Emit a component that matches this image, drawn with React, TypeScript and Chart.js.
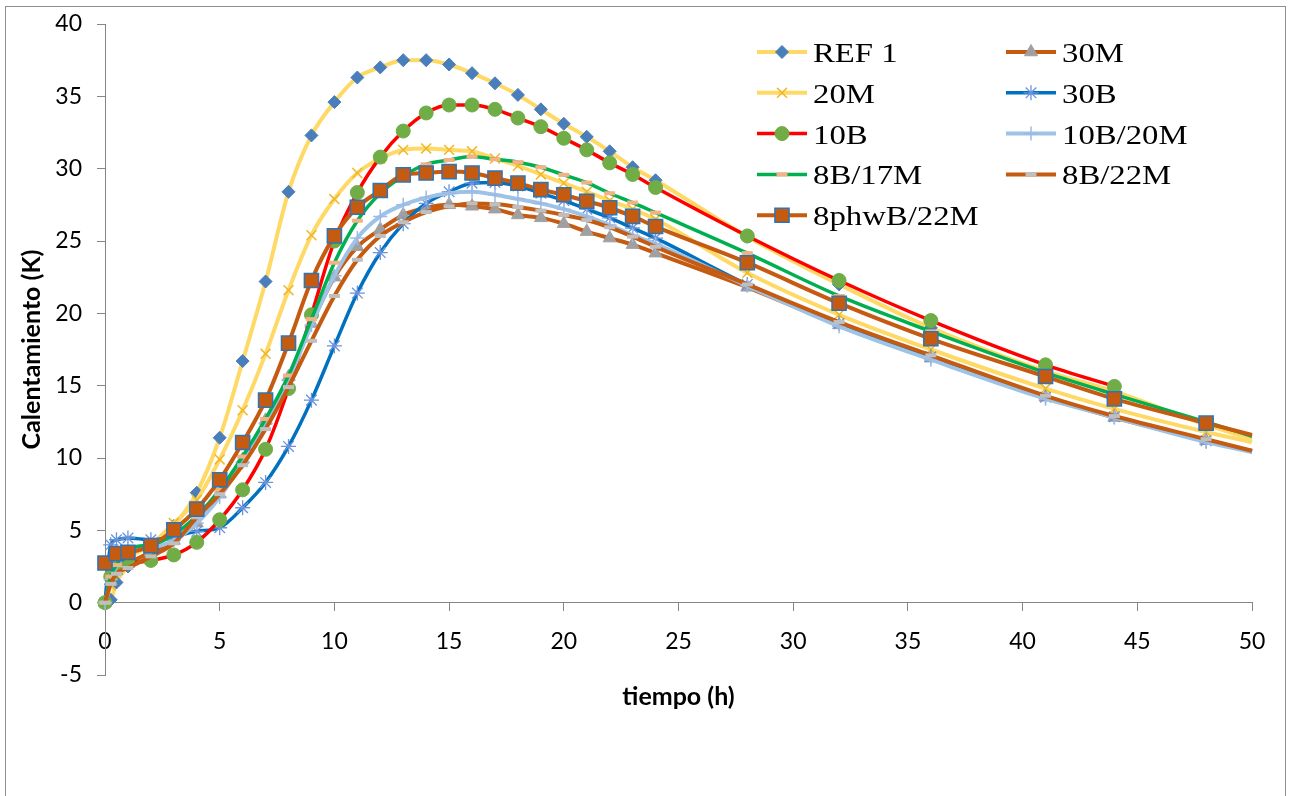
import React, { useEffect, useRef } from 'react';
import { Chart, registerables } from 'chart.js';
import { drawPoint } from 'chart.js/helpers';

Chart.register(...registerables);

// time (h)
const TIMES = [0, 0.25, 0.5, 1, 2, 3, 4, 5, 6, 7, 8, 9, 10, 11, 12, 13, 14, 15, 16, 17, 18, 19, 20, 21, 22, 23, 24, 28, 32, 36, 41, 44, 48, 50];

const REF1 = [0, 0.2, 1.4, 2.5, 3.6, 5.3, 7.6, 11.4, 16.7, 22.2, 28.4, 32.3, 34.6, 36.3, 37.0, 37.5, 37.5, 37.2, 36.6, 35.9, 35.1, 34.1, 33.1, 32.2, 31.2, 30.1, 29.2, 25.3, 22.0, 19.0, 16.0, 14.6, 12.3, 11.3];
const M30 = [0, 1.5, 2.2, 2.7, 3.5, 4.3, 5.5, 7.5, 9.9, 12.6, 15.6, 19.3, 22.5, 24.6, 25.8, 26.8, 27.3, 27.5, 27.4, 27.2, 26.8, 26.6, 26.2, 25.65, 25.2, 24.75, 24.16, 21.8, 19.2, 16.9, 14.2, 12.8, 11.2, 10.45];
const M20 = [0, 1.2, 2.3, 3.1, 4.0, 5.5, 7.1, 9.9, 13.3, 17.2, 21.6, 25.4, 27.9, 29.7, 30.7, 31.3, 31.4, 31.3, 31.2, 30.7, 30.2, 29.6, 29.0, 28.4, 27.8, 27.2, 26.5, 22.8, 19.9, 17.5, 14.8, 13.4, 11.8, 11.1];
const B30 = [0, 4.0, 4.35, 4.47, 4.35, 4.58, 4.93, 5.18, 6.56, 8.31, 10.8, 14.0, 17.75, 21.4, 24.2, 26.2, 27.6, 28.4, 29.0, 29.05, 28.8, 28.3, 27.8, 27.2, 26.6, 25.9, 25.2, 22.0, 19.3, 17.0, 14.2, 12.85, 11.2, 10.5];
const B10 = [0, 1.8, 2.6, 2.74, 2.92, 3.3, 4.17, 5.73, 7.8, 10.6, 14.8, 19.9, 25.0, 28.35, 30.8, 32.6, 33.85, 34.4, 34.4, 34.1, 33.5, 32.9, 32.1, 31.3, 30.4, 29.6, 28.7, 25.35, 22.27, 19.5, 16.44, 14.95, null, null];
const B10M20 = [0, 1.6, 2.5, 3.5, 3.8, 4.3, 5.5, 7.3, 9.7, 12.4, 15.4, 19.2, 22.6, 25.2, 26.7, 27.5, 28.0, 28.3, 28.4, 28.2, 27.9, 27.6, 27.2, 26.7, 26.1, 25.4, 24.8, 21.9, 19.1, 16.8, 14.1, 12.8, 11.1, 10.4];
const B8M17 = [0, 1.8, 2.6, 3.7, 4.0, 4.7, 6.0, 7.8, 10.1, 12.7, 15.7, 19.6, 23.5, 26.4, 28.3, 29.5, 30.3, 30.6, 30.84, 30.65, 30.45, 30.1, 29.57, 29.04, 28.3, 27.66, 26.96, 24.16, 21.2, 18.75, 15.9, 14.4, 12.5, 11.5];
const B8M22 = [0, 1.3, 2.0, 2.4, 3.2, 4.1, 5.9, 7.5, 9.5, 12.0, 14.9, 18.1, 21.2, 23.7, 25.35, 26.3, 27.0, 27.4, 27.6, 27.55, 27.35, 27.1, 26.8, 26.45, 25.95, 25.3, 24.6, 22.0, 19.4, 17.1, 14.3, 12.9, 11.3, 10.5];
const PHW8M22 = [2.74, null, 3.39, 3.48, 3.94, 5.04, 6.47, 8.5, 11.07, 14.0, 17.94, 22.27, 25.35, 27.33, 28.49, 29.57, 29.7, 29.8, 29.7, 29.35, 29.0, 28.55, 28.2, 27.75, 27.3, 26.7, 26.0, 23.5, 20.7, 18.24, 15.63, 14.09, 12.41, 11.6];

const NAMES = ['REF 1', '30M', '20M', '30B', '10B', '10B/20M', '8B/17M', '8B/22M', '8phwB/22M'];
const VALUES = [REF1, M30, M20, B30, B10, B10M20, B8M17, B8M22, PHW8M22];

const X_TICKS = { min: 0, max: 50, step: 5 };
const Y_TICKS = { min: -5, max: 40, step: 5 };

type Sty = { line: string; bw: number; style: string; r: number; fill: string; stroke: string; pbw: number };
const STYLES: Sty[] = [
  { line: '#FFD966', bw: 4, style: 'rectRot', r: 6.5, fill: '#4A7EBB', stroke: '#4A7EBB', pbw: 1 },
  { line: '#C55A11', bw: 4, style: 'triangle', r: 7.5, fill: '#A0A0A0', stroke: '#A0A0A0', pbw: 1 },
  { line: '#FFD966', bw: 4, style: 'crossRot', r: 7, fill: '#EEB82A', stroke: '#EEB82A', pbw: 1.5 },
  { line: '#0070C0', bw: 3.5, style: 'star', r: 7.5, fill: '#6B93DA', stroke: '#6B93DA', pbw: 1.3 },
  { line: '#FF0000', bw: 3.5, style: 'circle', r: 7, fill: '#70AD47', stroke: '#70AD47', pbw: 1 },
  { line: '#9DC3E6', bw: 4, style: 'cross', r: 7, fill: '#9DB9E6', stroke: '#9DB9E6', pbw: 1.5 },
  { line: '#00B050', bw: 3.5, style: 'line', r: 5.5, fill: '#F4B183', stroke: '#F4B183', pbw: 4 },
  { line: '#C55A11', bw: 4, style: 'line', r: 5.5, fill: '#BFBFBF', stroke: '#BFBFBF', pbw: 4 },
  { line: '#C55A11', bw: 4, style: 'rect', r: 10, fill: '#C55A11', stroke: '#2E75B6', pbw: 1.5 },
];

const framePlugin = {
  id: 'frame',
  beforeDraw(chart: any) {
    const ctx = chart.ctx;
    ctx.save();
    ctx.fillStyle = '#ffffff';
    ctx.fillRect(0, 0, chart.width, chart.height);
    ctx.strokeStyle = '#8E8E8E';
    ctx.lineWidth = 1;
    ctx.strokeRect(5.5, 6.5, 1280, 900);
    ctx.restore();
  },
};

const legendPlugin = {
  id: 'sideLegend',
  afterDraw(chart: any) {
    const ctx = chart.ctx;
    ctx.save();
    NAMES.forEach((name, i) => {
      const s = STYLES[i];
      const col = i % 2;
      const row = Math.floor(i / 2);
      const x0 = col === 0 ? 757 : 1006;
      const y = 52 + row * 40.8;
      ctx.strokeStyle = s.line;
      ctx.lineWidth = s.bw;
      ctx.beginPath();
      ctx.moveTo(x0, y);
      ctx.lineTo(x0 + 50, y);
      ctx.stroke();
      ctx.fillStyle = s.fill;
      ctx.strokeStyle = s.stroke;
      ctx.lineWidth = s.pbw;
      drawPoint(ctx, { pointStyle: s.style as any, radius: s.r, rotation: 0, borderWidth: s.pbw } as any, x0 + 25, y);
      ctx.save();
      ctx.translate(x0 + 56, y + 10);
      ctx.scale(1.17, 1);
      ctx.fillStyle = '#000';
      ctx.font = '28px "Liberation Serif"';
      ctx.textBaseline = 'alphabetic';
      ctx.textAlign = 'left';
      ctx.fillText(name, 0, 0);
      ctx.restore();
    });
    ctx.restore();
  },
};

export default function App() {
  const ref = useRef<HTMLCanvasElement>(null);
  useEffect(() => {
    document.body.style.margin = '0';
    const canvas = ref.current!;
    const datasets = NAMES.map((name, i) => {
      const s = STYLES[i];
      return {
        label: name,
        data: VALUES[i],
        xAxisID: 'x',
        yAxisID: 'y',
        borderColor: s.line,
        borderWidth: s.bw,
        backgroundColor: s.fill,
        pointStyle: s.style,
        pointRadius: (c: any) => (TIMES[c.dataIndex] >= 50 ? 0 : s.r),
        pointHoverRadius: (c: any) => (TIMES[c.dataIndex] >= 50 ? 0 : s.r),
        pointBackgroundColor: s.fill,
        pointBorderColor: s.stroke,
        pointBorderWidth: s.pbw,
        cubicInterpolationMode: 'monotone',
        spanGaps: true,
        clip: false,
        order: NAMES.length - i,
      };
    });
    const chart = new Chart(canvas, {
      type: 'line',
      data: { labels: TIMES, datasets: datasets as any },
      plugins: [framePlugin, legendPlugin],
      options: {
        responsive: false,
        devicePixelRatio: 1,
        animation: false,
        events: [],
        layout: { padding: { top: 24, right: 37, left: 0, bottom: 0 } },
        plugins: { legend: { display: false }, tooltip: { enabled: false } },
        scales: {
          x: {
            type: 'linear',
            position: { y: 0 } as any,
            min: X_TICKS.min,
            max: X_TICKS.max,
            ticks: {
              stepSize: X_TICKS.step,
              autoSkip: false,
              maxRotation: 0,
              color: '#000',
              padding: 17,
              font: { family: 'Lato', size: 23 },
            },
            grid: { display: true, drawOnChartArea: false, drawTicks: true, tickLength: 8, color: '#868686' },
            border: { display: true, color: '#868686', width: 1 },
          },
          x2: {
            type: 'linear',
            position: 'bottom',
            min: X_TICKS.min,
            max: X_TICKS.max,
            ticks: { display: false },
            grid: { display: false, drawTicks: false },
            border: { display: false },
            title: {
              display: true,
              text: 'tiempo (h)',
              color: '#000',
              font: { family: 'Lato', size: 25, weight: 'bold' },
              padding: { top: 0, bottom: 84 },
            },
            afterFit: (s: any) => {
              s.height = 121;
              s.paddingLeft = 0;
              s.paddingRight = 0;
            },
          },
          y: {
            type: 'linear',
            position: 'left',
            min: Y_TICKS.min,
            max: Y_TICKS.max,
            ticks: {
              stepSize: Y_TICKS.step,
              color: '#000',
              padding: 15,
              font: { family: 'Lato', size: 23 },
            },
            grid: { display: true, drawOnChartArea: false, drawTicks: true, tickLength: 8, color: '#868686' },
            border: { display: true, color: '#868686', width: 1 },
            title: {
              display: true,
              text: 'Calentamiento (K)',
              color: '#000',
              font: { family: 'Lato', size: 25, weight: 'bold' },
              padding: { top: 17, bottom: 0 },
            },
            afterFit: (s: any) => {
              s.width = 105;
              s.paddingTop = 0;
              s.paddingBottom = 0;
            },
          },
        },
      } as any,
    });
    return () => chart.destroy();
  }, []);
  return (
    <div style={{ position: 'relative', width: 1289, height: 796 }}>
      <canvas ref={ref} width={1289} height={796} style={{ display: 'block', width: 1289, height: 796 }} />
    </div>
  );
}
